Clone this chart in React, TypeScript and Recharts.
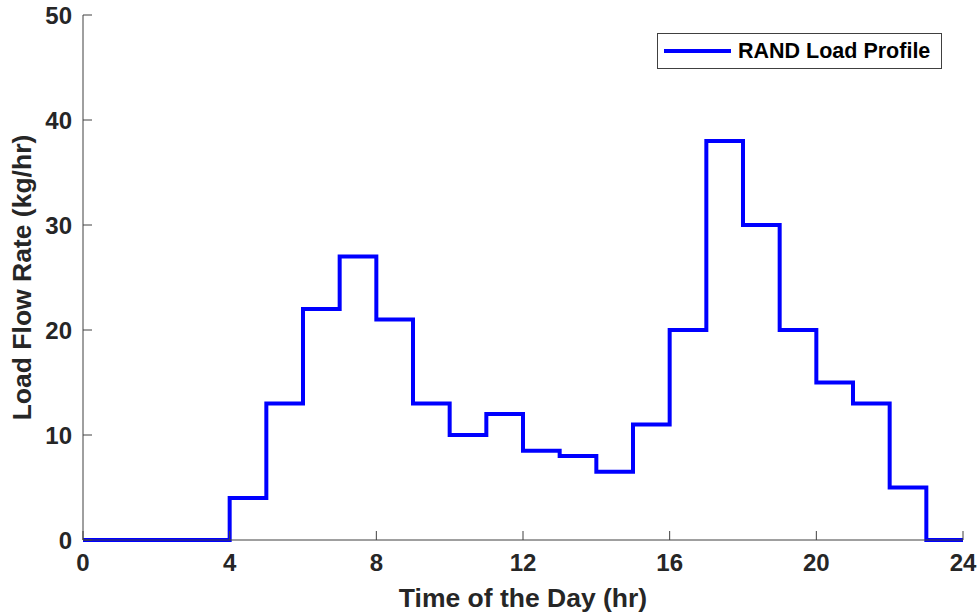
import { LineChart, Line, XAxis, YAxis, Legend } from "recharts";

const hours = [0, 1, 2, 3, 4, 5, 6, 7, 8, 9, 10, 11, 12, 13, 14, 15, 16, 17, 18, 19, 20, 21, 22, 23, 24];
const loadFlow = [0, 0, 0, 0, 4, 13, 22, 27, 21, 13, 10, 12, 8.5, 8, 6.5, 11, 20, 38, 30, 20, 15, 13, 5, 0, 0];
const xTicks = [0, 4, 8, 12, 16, 20, 24];
const yTicks = [0, 10, 20, 30, 40, 50];

const FONT = "'Liberation Sans', Arial, Helvetica, sans-serif";
const AXIS = "#404040";
const TEXT = "#262626";

const data = hours.map((h, i) => ({ hour: h, load: loadFlow[i] }));

function LegendBox() {
  return (
    <div
      style={{
        width: 285,
        height: 36,
        border: `1px solid ${AXIS}`,
        background: "#fff",
        display: "flex",
        alignItems: "center",
        boxSizing: "border-box",
        fontFamily: FONT,
        fontWeight: "bold",
        fontSize: 21.5,
        color: "#000",
      }}
    >
      <div style={{ width: 67, height: 4, background: "#0000ff", marginLeft: 6, marginRight: 7 }} />
      <span>RAND Load Profile</span>
    </div>
  );
}

export default function App() {
  return (
    <div style={{ position: "absolute", left: 0, top: 0, width: 977, height: 616, background: "#fff" }}>
      <LineChart
        width={977}
        height={616}
        data={data}
        margin={{ top: 15, right: 14, left: 0, bottom: 0 }}
        style={{ fontFamily: FONT }}
      >
        <XAxis
          xAxisId="bottom"
          dataKey="hour"
          type="number"
          domain={[0, 24]}
          ticks={xTicks}
          height={76}
          stroke={AXIS}
          tickSize={-9}
          tickMargin={23}
          tick={{ fill: TEXT, fontSize: 24, fontWeight: "bold" }}
          label={{
            value: "Time of the Day (hr)",
            position: "insideBottom",
            offset: 9,
            style: { fill: TEXT, fontSize: 26.5, fontWeight: "bold" },
          }}
        />
        <XAxis
          xAxisId="top"
          dataKey="hour"
          type="number"
          orientation="top"
          domain={[0, 24]}
          ticks={xTicks}
          height={0}
          stroke={AXIS}
          tickSize={-9}
          tick={false}
        />
        <YAxis
          yAxisId="left"
          domain={[0, 50]}
          ticks={yTicks}
          width={83}
          stroke={AXIS}
          tickSize={-9}
          tickMargin={20}
          tick={{ fill: TEXT, fontSize: 24, fontWeight: "bold" }}
          label={{
            value: "Load Flow Rate (kg/hr)",
            angle: -90,
            position: "insideLeft",
            offset: 22,
            style: { textAnchor: "middle", fill: TEXT, fontSize: 26.5, fontWeight: "bold" },
          }}
        />
        <YAxis
          yAxisId="right"
          orientation="right"
          domain={[0, 50]}
          ticks={yTicks}
          width={0}
          stroke={AXIS}
          tickSize={-9}
          tick={false}
        />
        <Legend
          verticalAlign="middle"
          layout="horizontal"
          wrapperStyle={{ position: "absolute", left: 657, top: 33, width: 285 }}
          content={() => <LegendBox />}
        />
        <Line
          xAxisId="bottom"
          yAxisId="left"
          type="stepAfter"
          dataKey="load"
          name="RAND Load Profile"
          stroke="#0000ff"
          strokeWidth={4}
          dot={false}
          activeDot={false}
          isAnimationActive={false}
        />
      </LineChart>
    </div>
  );
}
